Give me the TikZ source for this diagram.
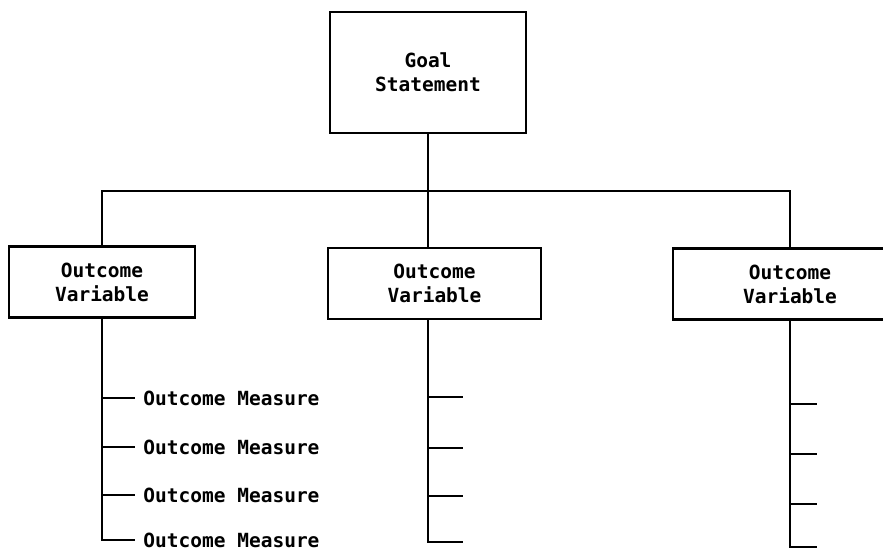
\documentclass[tikz,border=0pt]{standalone}
\usepackage{fontspec}
\setmonofont{DejaVu Sans Mono}

\begin{document}
\begin{tikzpicture}[x=1pt,y=-1pt,line width=2.8pt,
  box/.style={draw,rectangle,align=center,inner sep=0pt,font=\ttfamily\bfseries\fontsize{19.5}{24}\selectfont},
  varbox/.style={box,minimum height=71pt},
  measure/.style={anchor=west,inner xsep=7pt,inner ysep=0pt,font=\ttfamily\bfseries\fontsize{19.5}{24}\selectfont}]
\clip (0,0) rectangle (883,552);

\node[box,minimum width=196pt,minimum height=121pt] (goal) at (428,72.5) {Goal\\Statement};
\node[varbox,minimum width=186pt] (var1) at (102,282) {Outcome\\Variable};
\node[varbox,minimum width=213pt] (var2) at (434.5,283.5) {Outcome\\Variable};
\node[varbox,minimum width=234pt] (var3) at (790,284) {Outcome\\Variable};

% goal to the three variables
\coordinate (bus) at (0,191);
\draw (goal.south) -- (goal.south |- var2.north);
\draw (var1.north) -- (var1.north |- bus) -- (var3.north |- bus) -- (var3.north);

% measures under the first variable
\foreach \i/\y in {1/398,2/447,3/495,4/540}
  \node[measure] (meas\i) at (135,\y) {Outcome Measure};
\foreach \i in {1,2,3}
  \draw (var1.south |- meas\i.west) -- (meas\i.west);
\draw (var1.south) |- (meas4.west);

% empty measures under the other two
\foreach \i/\y in {1/397,2/448,3/496,4/542}
  \coordinate (tickb\i) at (463,\y);
\foreach \i in {1,2,3}
  \draw (goal.south |- tickb\i) -- (tickb\i);
\draw (goal.south |- var2.south) |- (tickb4);

\foreach \i/\y in {1/404,2/454,3/504,4/547}
  \coordinate (tickc\i) at (817,\y);
\foreach \i in {1,2,3}
  \draw (var3.south |- tickc\i) -- (tickc\i);
\draw (var3.south) |- (tickc4);
\end{tikzpicture}
\end{document}
